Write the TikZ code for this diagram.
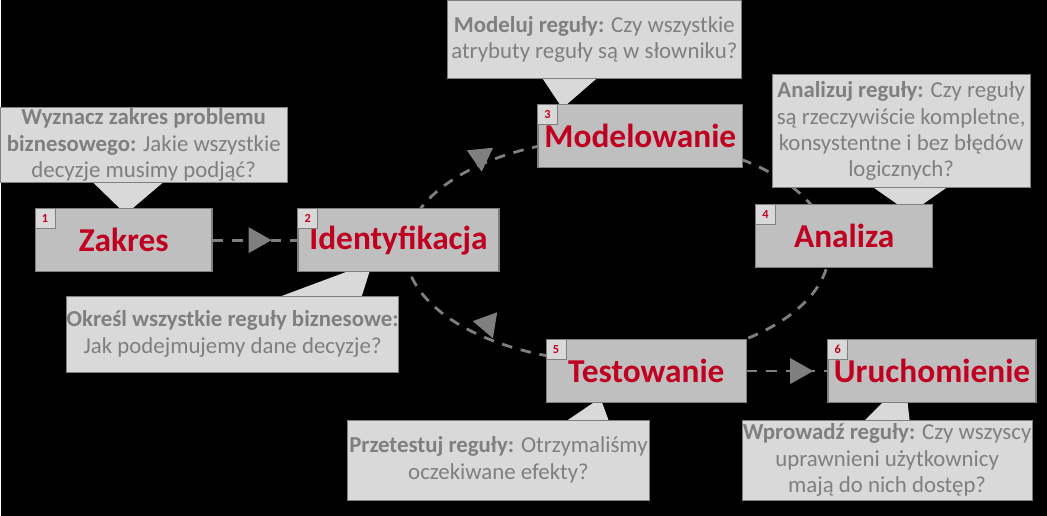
\documentclass[tikz,border=0pt]{standalone}
\usepackage{fontspec}
\setmainfont{Carlito}
\usetikzlibrary{positioning}
\definecolor{boxgray}{HTML}{BFBFBF}
\definecolor{callgray}{HTML}{D9D9D9}
\definecolor{edgegray}{HTML}{7F7F7F}
\definecolor{titlered}{HTML}{C00020}
\newcommand{\headtri}[3]{\fill[edgegray,shift={(#1,#2)},rotate=#3] (0.26cm,0) -- (-0.2cm,0.26cm) -- (-0.2cm,-0.26cm) -- cycle;}

\begin{document}
\begin{tikzpicture}[x=0.02cm,y=-0.02cm,
                    stage/.style={draw=edgegray,fill=boxgray,line width=0.8pt,minimum width=3.6cm,minimum height=1.26cm,
                                  font=\bfseries\fontsize{19}{22}\selectfont,text=titlered},
                    num/.style={draw=edgegray,fill=callgray,minimum size=0.4cm,inner sep=0pt,
                                font=\bfseries\fontsize{7}{8}\selectfont,text=titlered},
                    callout/.style={draw=edgegray,fill=callgray,align=center,text=edgegray,
                                    font=\fontsize{13}{15}\selectfont,inner sep=0pt},
                    link/.style={dashed,edgegray,line width=1.6pt,dash pattern=on 6pt off 5pt}]
                    \fill[black] (0,0) rectangle (1047,516);

                    % the cycle behind the stages
                    \draw[link] (617,250) ellipse (212 and 112);

                    % callout pointers
                    \fill[callgray] (90,180) -- (125,214) -- (165,180) -- cycle;
                    \fill[callgray] (270,300) -- (372,262) -- (360,300) -- cycle;
                    \fill[callgray] (540,75) -- (562,108) -- (600,75) -- cycle;
                    \fill[callgray] (870,185) -- (910,213) -- (950,185) -- cycle;
                    \fill[callgray] (560,425) -- (600,398) -- (610,425) -- cycle;
                    \fill[callgray] (860,425) -- (905,380) -- (910,425) -- cycle;

                    % callouts
                    \node[callout,minimum width=5.74cm,minimum height=1.5cm] (cZak) at (143,145)
                        {\textbf{Wyznacz zakres problemu}\\\textbf{biznesowego:} Jakie wszystkie\\decyzje musimy podjąć?};
                    \node[callout,minimum width=6.2cm,minimum height=1.52cm] (cIde) at (232,334)
                        {\textbf{Określ wszystkie reguły biznesowe:}\\Jak podejmujemy dane decyzje?};
                    \node[callout,minimum width=5.9cm,minimum height=1.56cm] (cMod) at (594,39)
                        {\textbf{Modeluj reguły:} Czy wszystkie\\atrybuty reguły są w słowniku?};
                    \node[callout,minimum width=5.16cm,minimum height=2.26cm] (cAna) at (901,131)
                        {\textbf{Analizuj reguły:} Czy reguły\\są rzeczywiście kompletne,\\konsystentne i bez błędów\\logicznych?};
                    \node[callout,minimum width=6.06cm,minimum height=1.6cm] (cTes) at (498,460)
                        {\textbf{Przetestuj reguły:} Otrzymaliśmy\\oczekiwane efekty?};
                    \node[callout,minimum width=5.8cm,minimum height=1.6cm] (cUru) at (887,460)
                        {\textbf{Wprowadź reguły:} Czy wszyscy\\uprawnieni użytkownicy\\mają do nich dostęp?};

                    % stages
                    \node[stage,minimum width=3.54cm] (zak) at (123,240) {Zakres};
                    \node[stage,minimum width=4.02cm] (ide) at (398,240) {Identyfikacja};
                    \node[stage,minimum width=4.1cm] (mod) at (640,136) {Modelowanie};
                    \node[stage,minimum width=3.54cm] (ana) at (844,236) {Analiza};
                    \node[stage,minimum width=4cm] (tes) at (646,371) {Testowanie};
                    \node[stage,minimum width=4cm] (uru) at (932,371) {Uruchomienie};

                    \foreach \s/\n in {zak/1,ide/2,mod/3,ana/4,tes/5,uru/6}
                        \node[num,anchor=north west] at (\s.north west) {\n};

                    % straight links
                    \draw[link] (zak) -- (ide);
                    \draw[link] (tes) -- (uru);
                    \headtri{258}{240}{0}
                    \headtri{800}{371}{0}
                    \headtri{482}{155}{35}
                    \headtri{488}{326}{-70}
\end{tikzpicture}
\end{document}
